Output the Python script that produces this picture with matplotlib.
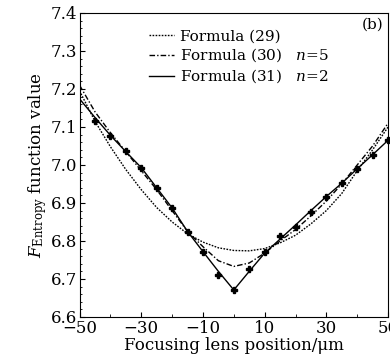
import numpy as np
import matplotlib
matplotlib.use("Agg")
import matplotlib.pyplot as plt
from matplotlib.ticker import MultipleLocator

plt.rcParams['font.family'] = 'DejaVu Serif'
plt.rcParams['mathtext.fontset'] = 'dejavuserif'

# lens position (um)
x = np.arange(-50, 51, 5)

# Formula (29) curve
f29 = [7.195, 7.115, 7.048, 6.988, 6.935, 6.888, 6.850, 6.819, 6.797, 6.782, 6.775,
       6.774, 6.780, 6.795, 6.815, 6.845, 6.880, 6.925, 6.985, 7.040, 7.100]
# Formula (30), n=5
f30 = [7.210, 7.140, 7.085, 7.035, 6.985, 6.935, 6.880, 6.825, 6.785, 6.748, 6.733,
       6.742, 6.768, 6.800, 6.830, 6.866, 6.905, 6.950, 7.000, 7.050, 7.110]
# Formula (31), n=2
f31 = [7.174, 7.125, 7.078, 7.035, 6.993, 6.940, 6.887, 6.825, 6.772, 6.720, 6.671,
       6.720, 6.768, 6.805, 6.842, 6.880, 6.917, 6.952, 6.990, 7.027, 7.065]

# measured points
xm = np.arange(-45, 51, 5)
ym = [7.117, 7.076, 7.037, 6.993, 6.939, 6.887, 6.823, 6.772, 6.711, 6.671,
      6.726, 6.772, 6.813, 6.838, 6.877, 6.917, 6.952, 6.989, 7.026, 7.066]

fig = plt.figure(figsize=(3.9, 3.61), dpi=100)
ax = fig.add_axes([0.204, 0.122, 0.791, 0.842])

ax.plot(x, f29, ls=(0, (1.2, 1.0)), color='black', lw=1.0, label='Formula (29)')
ax.plot(x, f30, ls=(0, (4, 1.5, 1, 1.5)), color='black', lw=1.0,
        label='Formula (30)   $n$=5')
ax.plot(x, f31, ls='-', color='black', lw=1.0, label='Formula (31)   $n$=2')
ax.plot(xm, ym, ls='none', marker='P', ms=4, color='black', clip_on=False)

ax.set_xlim(-50, 50)
ax.set_ylim(6.6, 7.4)
ax.set_xticks([-50, -30, -10, 10, 30, 50])
ax.xaxis.set_minor_locator(MultipleLocator(10))
ax.yaxis.set_major_locator(MultipleLocator(0.1))
ax.yaxis.set_minor_locator(MultipleLocator(0.02))
ax.set_xticklabels(['\u221250', '\u221230', '\u221210', '10', '30', '50'])
ax.tick_params(which='both', direction='in', labelsize=12, pad=2)
ax.tick_params(which='major', length=3.5)
ax.tick_params(which='minor', length=2)
ax.tick_params(axis='y', which='minor', length=1.2)

ax.set_xlabel('Focusing lens position/\u03bcm', fontsize=12, labelpad=0)
ax.set_ylabel(r'$F_{\rm Entropy}$ function value', fontsize=12, labelpad=1)

ax.legend(loc='upper left', bbox_to_anchor=(0.225, 0.945), frameon=False,
          borderpad=0, borderaxespad=0, fontsize=11, handlelength=1.65,
          handletextpad=0.35, labelspacing=0.2)
ax.text(0.985, 0.985, '(b)', transform=ax.transAxes, ha='right', va='top', fontsize=11)

fig.savefig('out.png', dpi=100)
